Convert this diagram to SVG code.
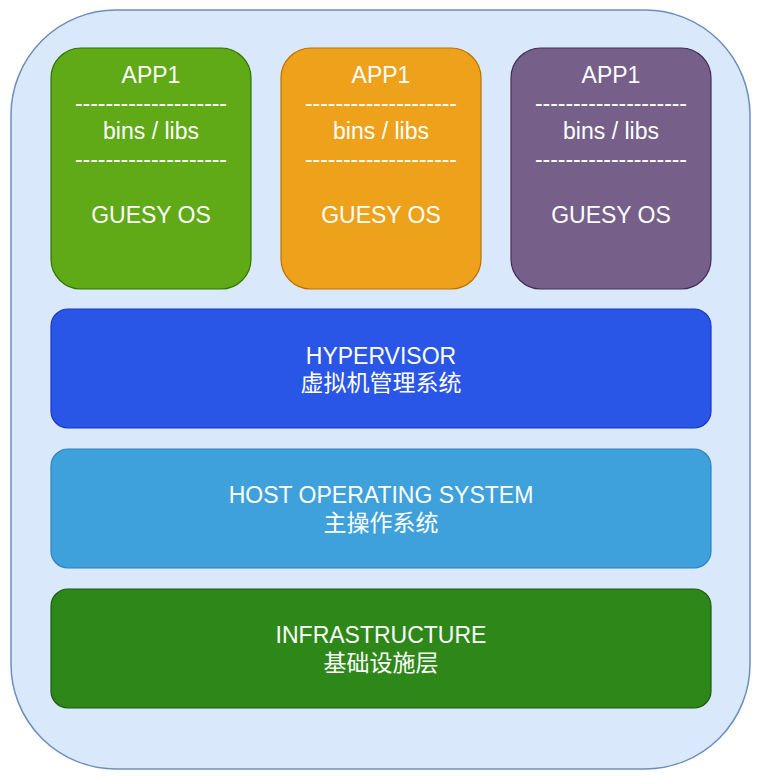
<svg xmlns="http://www.w3.org/2000/svg" width="760" height="778" viewBox="0 0 760 778">
  <style>
    .t { font-family: "Liberation Sans", Arial, "Noto Sans CJK SC", sans-serif; fill: #ffffff; text-anchor: middle; font-size: 23px; }
    .cjk { font-family: "Noto Sans CJK SC", "Liberation Sans", sans-serif; fill: #ffffff; text-anchor: middle; font-size: 23px; }
    .app { stroke-width: 1.2; }
    .layer { stroke-width: 1.2; }
  </style>
  <rect id="outer" x="11" y="10" width="739" height="759" rx="105" ry="105" fill="#dae8fc" stroke="#6c8ebf" stroke-width="1.5"/>

  <g id="app-green">
    <rect class="app" x="51" y="48" width="200" height="241" rx="30" ry="30" fill="#60a917" stroke="#2d7600"/>
    <text class="t" x="151" y="83">APP1</text>
    <text class="t" x="151" y="111" textLength="152" lengthAdjust="spacing">--------------------</text>
    <text class="t" x="151" y="139">bins / libs</text>
    <text class="t" x="151" y="167" textLength="152" lengthAdjust="spacing">--------------------</text>
    <text class="t" x="151" y="223">GUESY OS</text>
  </g>

  <g id="app-orange">
    <rect class="app" x="281" y="48" width="200" height="241" rx="30" ry="30" fill="#eea21b" stroke="#bd7000"/>
    <text class="t" x="381" y="83">APP1</text>
    <text class="t" x="381" y="111" textLength="152" lengthAdjust="spacing">--------------------</text>
    <text class="t" x="381" y="139">bins / libs</text>
    <text class="t" x="381" y="167" textLength="152" lengthAdjust="spacing">--------------------</text>
    <text class="t" x="381" y="223">GUESY OS</text>
  </g>

  <g id="app-purple">
    <rect class="app" x="511" y="48" width="200" height="241" rx="30" ry="30" fill="#76608a" stroke="#432d57"/>
    <text class="t" x="611" y="83">APP1</text>
    <text class="t" x="611" y="111" textLength="152" lengthAdjust="spacing">--------------------</text>
    <text class="t" x="611" y="139">bins / libs</text>
    <text class="t" x="611" y="167" textLength="152" lengthAdjust="spacing">--------------------</text>
    <text class="t" x="611" y="223">GUESY OS</text>
  </g>

  <g id="hypervisor">
    <rect class="layer" x="51" y="309" width="660" height="119" rx="17" ry="17" fill="#2a56e8" stroke="#1a36c4"/>
    <text class="t" x="381" y="364">HYPERVISOR</text>
    <text class="cjk" x="381" y="391">虚拟机管理系统</text>
  </g>

  <g id="host-os">
    <rect class="layer" x="51" y="449" width="660" height="119" rx="17" ry="17" fill="#3fa1dc" stroke="#2d82bd"/>
    <text class="t" x="381" y="503">HOST OPERATING SYSTEM</text>
    <text class="cjk" x="381" y="531">主操作系统</text>
  </g>

  <g id="infrastructure">
    <rect class="layer" x="51" y="589" width="660" height="119" rx="17" ry="17" fill="#2e8719" stroke="#1b5a0e"/>
    <text class="t" x="381" y="643">INFRASTRUCTURE</text>
    <text class="cjk" x="381" y="671">基础设施层</text>
  </g>

  <g id="connectors"></g>
</svg>
